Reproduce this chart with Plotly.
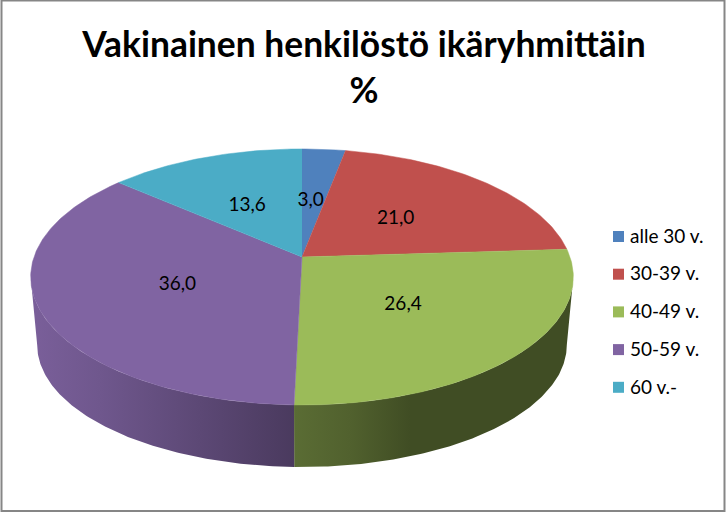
import numpy as np
import plotly.graph_objects as go

categories = ['alle 30 v.', '30-39 v.', '40-49 v.', '50-59 v.', '60 v.-']
values = [3.0, 21.0, 26.4, 36.0, 13.6]
value_labels = ['3,0', '21,0', '26,4', '36,0', '13,6']
colors = ['#4f81bd', '#c0504d', '#9bbb59', '#8064a2', '#4bacc6']
title_lines = ['Vakinainen henkilöstö ikäryhmittäin', '%']

# side wall gets darker from left to right
shade_x = [31, 100, 200, 295, 350, 410, 574]
shade_f = [0.95, 0.87, 0.72, 0.58, 0.52, 0.41, 0.41]

FONT = 'Lato'

# pie projection in page pixels, y axis runs downward
CX, CY = 302, 257
A, B, K = 268, 124.9, 0.156


def top_xy(deg, r=1.0):
    t = np.radians(deg)
    u, v = r * np.sin(t), r * np.cos(t)
    w = 1 + K * v
    return CX + A * u / w, CY - B * v / w


def bottom_xy(deg):
    x, y = top_xy(deg)
    return CX + (x - CX) * 0.976, 277 + (y - 277) * 0.953 + 68


def shade_scale(hex_color):
    rgb = [int(hex_color[i:i + 2], 16) for i in (1, 3, 5)]
    scale = []
    for x, f in zip(shade_x, shade_f):
        pos = (x - shade_x[0]) / (shade_x[-1] - shade_x[0])
        scale.append([pos, 'rgb(%d,%d,%d)' % tuple(round(c * f) for c in rgb)])
    return scale


edges = np.cumsum([0] + values) / sum(values) * 360

fig = go.Figure()

# side wall, one gradient polygon per slice, only the part facing the viewer
for i in range(len(values)):
    a0, a1 = max(edges[i], 99), min(edges[i + 1], 261)
    if a1 <= a0:
        continue
    angles = np.linspace(a0, a1, 120)
    tx, ty = top_xy(angles)
    bx, by = bottom_xy(angles[::-1])
    fig.add_trace(go.Scatter(
        x=list(tx) + list(bx), y=list(ty) + list(by),
        mode='lines', fill='toself',
        fillgradient=dict(type='horizontal', colorscale=shade_scale(colors[i]),
                          start=shade_x[0], stop=shade_x[-1]),
        line=dict(width=0),
        hoverinfo='skip', showlegend=False))

# top face
for i, name in enumerate(categories):
    angles = np.linspace(edges[i], edges[i + 1], int(values[i] * 4) + 2)
    px, py = top_xy(angles)
    fig.add_trace(go.Scatter(
        x=[CX] + list(px), y=[CY] + list(py),
        mode='lines', fill='toself', fillcolor=colors[i],
        line=dict(color=colors[i], width=0.5),
        name=name, showlegend=False))

# data labels
mids = (edges[:-1] + edges[1:]) / 2
lx, ly = top_xy(mids, 0.5)
lx += [-3, -2, -1, 2, -3]
ly += 2
fig.add_trace(go.Scatter(
    x=lx, y=ly, mode='text', text=value_labels,
    textfont=dict(family=FONT, size=19, color='#000000'),
    hoverinfo='skip', showlegend=False))

# legend column
legend_y = 236.5 + 37.7 * np.arange(len(categories))
fig.add_trace(go.Scatter(
    x=[618.5] * len(categories), y=legend_y, mode='markers',
    marker=dict(symbol='square', size=11, color=colors),
    hoverinfo='skip', showlegend=False))
fig.add_trace(go.Scatter(
    x=[630] * len(categories), y=legend_y + 1.5, mode='text',
    text=categories, textposition='middle right',
    textfont=dict(family=FONT, size=19, color='#000000'),
    hoverinfo='skip', showlegend=False))

fig.update_layout(
    width=726, height=512,
    margin=dict(l=0, r=0, t=0, b=0),
    paper_bgcolor='white', plot_bgcolor='white',
    showlegend=False,
    title=dict(
        text='<br>'.join(title_lines),
        x=364 / 726, xanchor='center', y=1 - 57 / 512, yanchor='middle',
        font=dict(family=FONT, size=35.4, color='#000000', weight='bold')),
    xaxis=dict(range=[0, 726], visible=False, fixedrange=True),
    yaxis=dict(range=[512, 0], visible=False, fixedrange=True),
    shapes=[dict(type='rect', x0=1.5, x1=724.5, y0=0.5, y1=511,
                 line=dict(color='#868686', width=2))],
)

fig.write_html('out.html', config=dict(displayModeBar=False),
               post_script="document.body.style.margin='0';document.body.style.overflow='hidden';")
